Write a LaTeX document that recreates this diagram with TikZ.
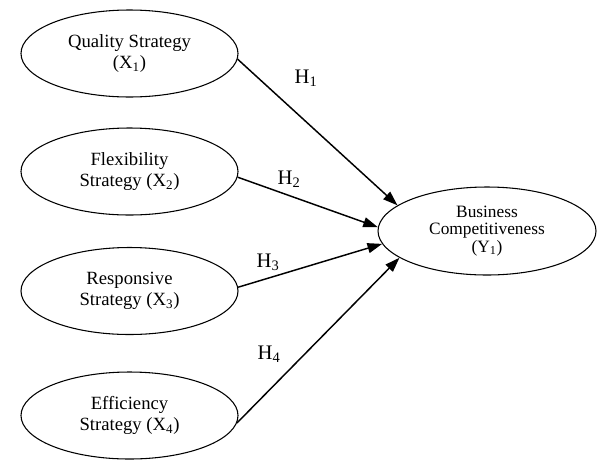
\documentclass[tikz,border=0pt]{standalone}
\usepackage{fontspec}
\setmainfont{Liberation Serif}
\usetikzlibrary{shapes.geometric, arrows.meta}

\begin{document}
\begin{tikzpicture}[x=0.75pt, y=-0.75pt,
        var/.style={ellipse, draw, line width=0.8pt, inner sep=0pt,
        minimum width=162.75pt, minimum height=65.25pt, align=center,
        font=\fontsize{14}{15.5}\selectfont},
        hyp/.style={inner sep=0pt, font=\fontsize{15.5}{17}\selectfont},
        arr/.style={line width=1.1pt, -{Triangle[length=11pt, width=7.5pt]}}]
        \useasboundingbox (0,0) rectangle (605,468);

        \node[var] (X1) at (129.5, 53.5) {Quality Strategy\\(X\textsubscript{1})};
        \node[var] (X2) at (129.5, 171.5) {Flexibility\\Strategy (X\textsubscript{2})};
        \node[var] (X3) at (129.5, 291) {Responsive\\Strategy (X\textsubscript{3})};
        \node[var] (X4) at (129.5, 415.5) {Efficiency\\Strategy (X\textsubscript{4})};
        \node[var, minimum width=163.5pt, minimum height=66pt,
            font=\fontsize{13}{13}\selectfont] (Y1) at (487, 231)
            {Business\\Competitiveness\\(Y\textsubscript{1})};

        \node[hyp] (H1) at (306, 78) {H\textsubscript{1}};
        \node[hyp] (H2) at (289, 179) {H\textsubscript{2}};
        \node[hyp] (H3) at (268, 262) {H\textsubscript{3}};
        \node[hyp] (H4) at (269, 354) {H\textsubscript{4}};

        \draw[arr] (X1.357) -- (Y1.164);
        \draw[arr] (X2.357) -- (Y1.178);
        \draw[arr] (X3.2) -- (Y1.187);
        \draw[arr] (X4.356) -- (Y1.197);
    \end{tikzpicture}
\end{document}
